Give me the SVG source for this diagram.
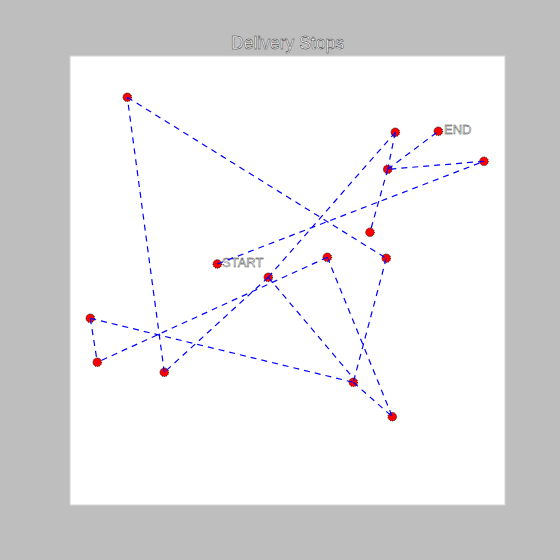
<svg xmlns="http://www.w3.org/2000/svg" width="560" height="560" viewBox="0 0 560 560">
<defs>
<style>
.bg{fill:#bebebe}
.plot{fill:#ffffff;stroke:#d4d4d4;stroke-width:1}
.title{font-family:"Liberation Sans",Arial,sans-serif;font-size:17.5px;fill:#ffffff;stroke:#2a2a2a;stroke-width:0.45;text-anchor:middle}
.lbl{font-family:"Liberation Sans",Arial,sans-serif;font-size:13px;fill:#ffffff;stroke:#2a2a2a;stroke-width:0.4}
.stop{fill:#ff0000;stroke:#111;stroke-width:1;stroke-dasharray:1 1}
.route{fill:none;stroke:#0000ff;stroke-width:1.2;stroke-dasharray:6 5}
</style>
</defs>
<rect class="bg" x="0" y="0" width="560" height="560"/>
<rect class="plot" x="70" y="56" width="435" height="449"/>
<text class="title" x="287.5" y="49">Delivery Stops</text>
<g id="nodes">
<g id="start"><circle class="stop" cx="217.3" cy="264" r="4.3"/><text class="lbl" x="222" y="266.5">START</text></g>
<g id="end"><circle class="stop" cx="438.3" cy="131.3" r="4.3"/><text class="lbl" x="444" y="134">END</text></g>
<g id="a"><circle class="stop" cx="127.3" cy="97.3" r="4.3"/></g>
<g id="b"><circle class="stop" cx="395.3" cy="132.3" r="4.3"/></g>
<g id="c"><circle class="stop" cx="387.7" cy="169.3" r="4.3"/></g>
<g id="d"><circle class="stop" cx="484" cy="161.3" r="4.3"/></g>
<g id="e"><circle class="stop" cx="370" cy="232.3" r="4.3"/></g>
<g id="f"><circle class="stop" cx="327.3" cy="257.3" r="4.3"/></g>
<g id="g"><circle class="stop" cx="386.3" cy="258.3" r="4.3"/></g>
<g id="h"><circle class="stop" cx="268.3" cy="277.3" r="4.3"/></g>
<g id="i"><circle class="stop" cx="90.3" cy="318.3" r="4.3"/></g>
<g id="j"><circle class="stop" cx="97.3" cy="362.3" r="4.3"/></g>
<g id="k"><circle class="stop" cx="164.3" cy="372.3" r="4.3"/></g>
<g id="l"><circle class="stop" cx="353.3" cy="382.3" r="4.3"/></g>
<g id="m"><circle class="stop" cx="392.3" cy="416.7" r="4.3"/></g>
</g>
<g id="connectors">
<line class="route" x1="217.3" y1="264" x2="484" y2="161.3"/>
<line class="route" x1="484" y1="161.3" x2="387.7" y2="169.3"/>
<line class="route" x1="387.7" y1="169.3" x2="438.3" y2="131.3"/>
<line class="route" x1="395.3" y1="132.3" x2="387.7" y2="169.3"/>
<line class="route" x1="387.7" y1="169.3" x2="370" y2="232.3"/>
<line class="route" x1="395.3" y1="132.3" x2="268.3" y2="277.3"/>
<line class="route" x1="268.3" y1="277.3" x2="164.3" y2="372.3"/>
<line class="route" x1="164.3" y1="372.3" x2="127.3" y2="97.3"/>
<line class="route" x1="127.3" y1="97.3" x2="386.3" y2="258.3"/>
<line class="route" x1="386.3" y1="258.3" x2="353.3" y2="382.3"/>
<line class="route" x1="268.3" y1="277.3" x2="353.3" y2="378"/>
<line class="route" x1="353.3" y1="382.3" x2="392.3" y2="416.7"/>
<line class="route" x1="327.3" y1="257.3" x2="392.3" y2="416.7"/>
<line class="route" x1="327.3" y1="257.3" x2="97.3" y2="362.3"/>
<line class="route" x1="90.3" y1="318.3" x2="97.3" y2="362.3"/>
<line class="route" x1="90.3" y1="318.3" x2="353.3" y2="382.3"/>
</g>
</svg>
